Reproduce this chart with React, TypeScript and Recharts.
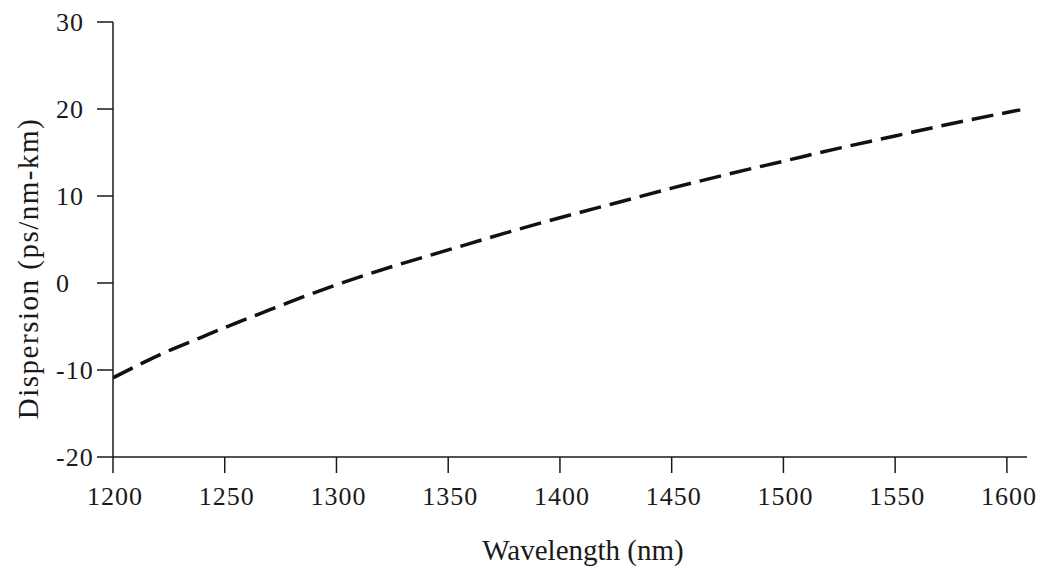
import React from 'react';
import { LineChart, Line, XAxis, YAxis } from 'recharts';

const wavelengths = [1200, 1214, 1224, 1239, 1255, 1270, 1285, 1300, 1325, 1350, 1375, 1400, 1425, 1450, 1475, 1500, 1525, 1550, 1575, 1600, 1606];
const dispersion = [-10.9, -9.1, -7.9, -6.3, -4.6, -3.1, -1.6, -0.2, 1.9, 3.8, 5.7, 7.5, 9.2, 10.9, 12.5, 14.0, 15.5, 16.9, 18.3, 19.6, 19.9];
const xTicks = [1200, 1250, 1300, 1350, 1400, 1450, 1500, 1550, 1600];
const yTicks = [-20, -10, 0, 10, 20, 30];

const data = wavelengths.map((w, i) => ({ w, d: dispersion[i] }));

const FONT = "'Liberation Serif', 'DejaVu Serif', 'Times New Roman', Tinos, 'Noto Serif', serif";
const INK = '#1a1a1a';

const XTick = (props: any) => {
  const { x, payload } = props;
  return (
    <text x={x + 2} y={497} textAnchor="middle" style={{ fontFamily: FONT, fontSize: 26, letterSpacing: 1 }} fill={INK}>
      {payload.value}
    </text>
  );
};

const YTick = (props: any) => {
  const { y, payload } = props;
  return (
    <text x={48} y={y + 9} textAnchor="start" style={{ fontFamily: FONT, fontSize: 26, letterSpacing: 1 }} fill={INK}>
      {payload.value}
    </text>
  );
};

const YLabel = (props: any) => {
  const vb = props.viewBox || { x: 0, y: 14, width: 105, height: 435 };
  const cx = vb.x + 20;
  const cy = vb.y + vb.height / 2 + 29;
  return (
    <text
      x={cx}
      y={cy}
      transform={`rotate(-90 ${cx} ${cy})`}
      textAnchor="middle"
      dominantBaseline="central"
      style={{ fontFamily: FONT, fontSize: 29, letterSpacing: 1.5 }}
      fill={INK}
    >
      Dispersion (ps/nm-km)
    </text>
  );
};

const XLabel = (props: any) => {
  const vb = props.viewBox || { x: 105, y: 449, width: 914, height: 109 };
  const cx = vb.x + vb.width / 2 + 13;
  return (
    <text x={cx} y={552} textAnchor="middle" style={{ fontFamily: FONT, fontSize: 29 }} fill={INK}>
      Wavelength (nm)
    </text>
  );
};

export default function App() {
  return (
    <div style={{ fontFamily: FONT }}>
      <LineChart width={1037} height={558} data={data} margin={{ top: 14, right: 18, bottom: 0, left: 0 }}>
        <XAxis
          dataKey="w"
          type="number"
          domain={[1200, 1609]}
          ticks={xTicks}
          allowDataOverflow
          height={109}
          tickSize={16}
          tick={<XTick />}
          axisLine={{ stroke: INK, strokeWidth: 1.5 }}
          tickLine={{ stroke: INK, strokeWidth: 1.5 }}
          label={<XLabel />}
        />
        <YAxis
          type="number"
          domain={[-20, 30]}
          ticks={yTicks}
          width={105}
          tickSize={16}
          tick={<YTick />}
          axisLine={{ stroke: INK, strokeWidth: 1.5 }}
          tickLine={{ stroke: INK, strokeWidth: 1.5 }}
          label={<YLabel />}
        />
        <Line
          dataKey="d"
          type="monotone"
          stroke="#111"
          strokeWidth={3.5}
          strokeDasharray="22 9"
          dot={false}
          isAnimationActive={false}
        />
      </LineChart>
    </div>
  );
}
